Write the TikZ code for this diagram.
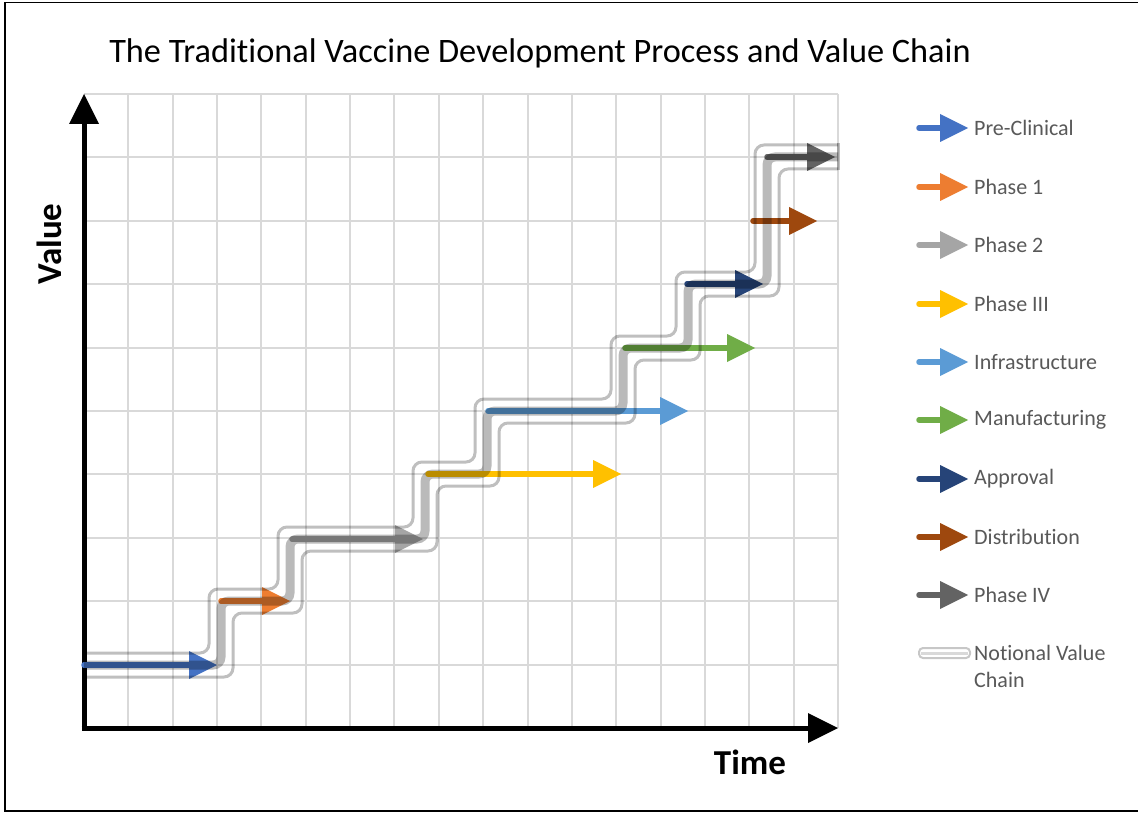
\documentclass[tikz,border=0pt]{standalone}
\usepackage{fontspec}
\setmainfont{Carlito}[Ligatures={NoCommon,NoRequired,NoContextual}]
\usetikzlibrary{arrows.meta}
\definecolor{cPre}{HTML}{4472C4}
\definecolor{cP1}{HTML}{ED7D31}
\definecolor{cP2}{HTML}{A5A5A5}
\definecolor{cP3}{HTML}{FFC000}
\definecolor{cInf}{HTML}{5B9BD5}
\definecolor{cMan}{HTML}{70AD47}
\definecolor{cApp}{HTML}{264478}
\definecolor{cDis}{HTML}{9E480E}
\definecolor{cP4}{HTML}{636363}
\definecolor{cGrid}{HTML}{D9D9D9}
\definecolor{cLeg}{HTML}{595959}
\tikzset{
  gridline/.style={draw=cGrid, line width=2pt},
  axisline/.style={line width=5pt, -{Triangle[length=30pt,width=30pt,line width=0pt]}},
  arr/.style={line width=5.5pt, line cap=round, -{Triangle[length=28pt,width=28pt,line width=0pt]}},
  chainouter/.style={draw=black, opacity=0.25, line width=3pt, rounded corners=9pt},
  chaincenter/.style={draw=black, opacity=0.27, line width=9pt, rounded corners=8pt},
  legtext/.style={text=cLeg, font=\fontsize{22}{27}\selectfont, anchor=west, inner sep=0pt},
}
\begin{document}
\begin{tikzpicture}[x=1pt,y=-1pt]
\useasboundingbox (0,0) rectangle (1138,813);
\fill[white] (0,0) rectangle (1138,813);
\draw[line width=1.5pt, black] (5,2.5) rectangle (1145,811);
% title
\node[anchor=base, inner sep=0pt, font=\fontsize{34.3}{40}\selectfont] (title) at (540,63) {The Traditional Vaccine Development Process and Value Chain};
% grid
\foreach \i in {1,...,17} \draw[gridline] ({84+44.353*\i},94) -- ({84+44.353*\i},728);
\foreach \j in {0,...,9} \draw[gridline] (84,{94+63.4*\j}) -- (838,{94+63.4*\j});
% axes
\coordinate (origin) at (84,728);
\coordinate (ytop) at (84,94);
\coordinate (xend) at (838,728);
\draw[axisline] (84,730.5) -- (ytop);
\draw[axisline] (81.5,728) -- (xend);
\node[font=\bfseries\fontsize{35}{40}\selectfont, inner sep=0pt] (time) at (750,762) {Time};
\node[font=\bfseries\fontsize{35}{40}\selectfont, inner sep=0pt, rotate=90] (value) at (49,244) {Value};
% phase arrows
\draw[arr, draw=cPre, fill=cPre] (84,665) -- (217,665);
\draw[arr, draw=cP1, fill=cP1] (221,601) -- (290,601);
\draw[arr, draw=cP2, fill=cP2] (292,539) -- (423,539);
\draw[arr, draw=cP3, fill=cP3] (428,474) -- (621,474);
\draw[arr, draw=cInf, fill=cInf] (488,411) -- (688,411);
\draw[arr, draw=cMan, fill=cMan] (625,348) -- (755,348);
\draw[arr, draw=cApp, fill=cApp] (687,284) -- (763,284);
\draw[arr, draw=cDis, fill=cDis] (753,221) -- (817,221);
\draw[arr, draw=cP4, fill=cP4] (767,157) -- (835,157);
% notional value chain
\draw[chaincenter] (84,665) -- (221,665) -- (221,601) -- (290,601) -- (290,539) -- (425,539) -- (425,474) -- (487,474) -- (487,411) -- (623,411) -- (623,348) -- (688,348) -- (688,284) -- (767,284) -- (767,157) -- (838,157);
\draw[chainouter] (84,653) -- (209,653) -- (209,589) -- (278,589) -- (278,527) -- (413,527) -- (413,462) -- (475,462) -- (475,399) -- (611,399) -- (611,336) -- (676,336) -- (676,272) -- (755,272) -- (755,145) -- (838,145);
\draw[chainouter] (84,677) -- (233,677) -- (233,613) -- (302,613) -- (302,551) -- (437,551) -- (437,486) -- (499,486) -- (499,423) -- (635,423) -- (635,360) -- (700,360) -- (700,296) -- (779,296) -- (779,169) -- (838,169);
\draw[draw=black, opacity=0.25, line width=3pt] (838,143.5) -- (838,170.5);
% legend
\foreach \y/\c/\t [count=\k] in {128/cPre/Pre-Clinical, 187/cP1/Phase 1, 245/cP2/Phase 2, 304/cP3/Phase III, 362/cInf/Infrastructure, 420/cMan/Manufacturing, 479/cApp/Approval, 537/cDis/Distribution, 595/cP4/Phase IV}{
  \draw[arr, draw=\c, fill=\c] (919,\y) -- (968,\y);
  \node[legtext] (leg\k) at (974,\y) {\t};
}
\draw[draw=black, opacity=0.22, line width=2pt, rounded corners=4pt] (919,648) rectangle (970,658);
\draw[draw=black, opacity=0.15, line width=3pt] (921,653) -- (968,653);
\node[legtext, anchor=north west, align=left] (legchain) at (974,645) {Notional Value\\Chain};
\end{tikzpicture}
\end{document}
